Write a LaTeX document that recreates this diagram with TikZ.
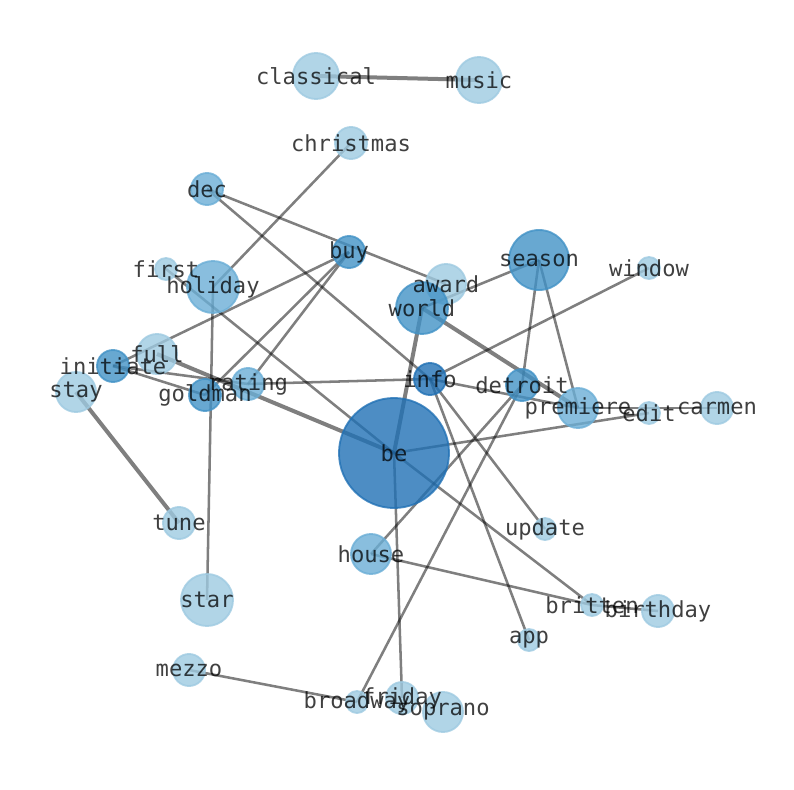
\documentclass[tikz,border=0pt]{standalone}
\usepackage{fontspec}
\usepackage{tikz}
\newfontfamily\wordfont{DejaVu Sans Mono}

\definecolor{blueA}{HTML}{9ECAE1}
\definecolor{blueB}{HTML}{6BAED6}
\definecolor{blueC}{HTML}{4292C6}
\definecolor{blueD}{HTML}{2171B5}

\pgfdeclarelayer{edges}
\pgfdeclarelayer{words}
\pgfsetlayers{edges,main,words}

\tikzset{
  dot/.style={circle,inner sep=0pt,fill opacity=0.8,draw opacity=0.8,line width=1.4pt},
  pale/.style={dot,fill=blueA,draw=blueA},
  soft/.style={dot,fill=blueB,draw=blueB},
  rich/.style={dot,fill=blueC,draw=blueC},
  deep/.style={dot,fill=blueD,draw=blueD},
  tiny/.style={minimum size=16.5pt},
  small/.style={minimum size=24pt},
  mid/.style={minimum size=30pt},
  big/.style={minimum size=34.5pt},
  large/.style={minimum size=39pt},
  huge/.style={minimum size=45pt},
  hub/.style={minimum size=82.5pt},
  word/.style={font=\wordfont\fontsize{16.6}{18}\selectfont,text=black,text opacity=0.75,inner sep=0pt},
  link/.style={draw=black,draw opacity=0.5,line width=1.9pt},
  heavy/.style={link,line width=3pt}
}

\begin{document}
\begin{tikzpicture}[x=0.75pt,y=-0.75pt]
\useasboundingbox (0,0) rectangle (794,790);

\node[pale,big] (classical) at (316,76) {};
\node[pale,big] (music) at (479,80) {};
\node[pale,small] (christmas) at (351,143) {};
\node[soft,small] (dec) at (207,189) {};
\node[rich,small] (buy) at (349,252) {};
\node[pale,tiny] (first) at (166,269) {};
\node[soft,large] (holiday) at (213,287) {};
\node[pale,mid] (award) at (446,284) {};
\node[rich,huge] (season) at (539,260) {};
\node[pale,tiny] (window) at (649,268) {};
\node[rich,large] (world) at (422,308) {};
\node[pale,mid] (full) at (157,354) {};
\node[rich,small] (initiate) at (113,366) {};
\node[pale,mid] (stay) at (76,392) {};
\node[rich,small] (goldman) at (205,395) {};
\node[soft,small] (rating) at (248,384) {};
\node[deep,small] (info) at (430,379) {};
\node[rich,small] (detroit) at (522,385) {};
\node[soft,mid] (premiere) at (578,408) {};
\node[pale,tiny] (edit) at (649,413) {};
\node[pale,small] (carmen) at (717,408) {};
\node[deep,hub] (be) at (394,453) {};
\node[pale,small] (tune) at (179,523) {};
\node[pale,tiny] (update) at (545,529) {};
\node[soft,mid] (house) at (371,554) {};
\node[pale,large] (star) at (207,600) {};
\node[pale,tiny] (britten) at (592,605) {};
\node[pale,small] (birthday) at (658,611) {};
\node[pale,tiny] (app) at (529,640) {};
\node[pale,small] (mezzo) at (189,670) {};
\node[pale,tiny] (broadway) at (357,702) {};
\node[pale,small] (friday) at (402,698) {};
\node[pale,mid] (soprano) at (443,712) {};

% edges
\begin{pgfonlayer}{edges}
\draw[heavy] (classical.center) -- (music.center);
\draw[link] (christmas.center) -- (holiday.center);
\draw[link] (dec.center) -- (award.center);
\draw[link] (dec.center) -- (info.center);
\draw[link] (buy.center) -- (initiate.center);
\draw[link] (buy.center) -- (goldman.center);
\draw[link] (buy.center) -- (rating.center);
\draw[link] (holiday.center) -- (star.center);
\draw[link] (first.center) -- (be.center);
\draw[heavy] (full.center) -- (be.center);
\draw[link] (initiate.center) -- (rating.center);
\draw[link] (initiate.center) -- (goldman.center);
\draw[heavy] (stay.center) -- (tune.center);
\draw[link] (season.center) -- (world.center);
\draw[link] (season.center) -- (detroit.center);
\draw[link] (season.center) -- (premiere.center);
\draw[heavy] (world.center) -- (be.center);
\draw[heavy] (world.center) -- (premiere.center);
\draw[link] (window.center) -- (info.center);
\draw[link] (rating.center) -- (info.center);
\draw[link] (info.center) -- (premiere.center);
\draw[link] (info.center) -- (update.center);
\draw[link] (info.center) -- (app.center);
\draw[link] (detroit.center) -- (house.center);
\draw[link] (detroit.center) -- (broadway.center);
\draw[link] (be.center) -- (edit.center);
\draw[link] (premiere.center) -- (carmen.center);
\draw[link] (be.center) -- (britten.center);
\draw[link] (be.center) -- (friday.center);
\draw[link] (house.center) -- (britten.center);
\draw[link] (britten.center) -- (birthday.center);
\draw[link] (mezzo.center) -- (broadway.center);
\end{pgfonlayer}

% labels
\begin{pgfonlayer}{words}
\node[word] (classical-w) at (classical) {classical};
\node[word] (music-w) at (music) {music};
\node[word] (christmas-w) at (christmas) {christmas};
\node[word] (dec-w) at (dec) {dec};
\node[word] (buy-w) at (buy) {buy};
\node[word] (first-w) at (first) {first};
\node[word] (holiday-w) at (holiday) {holiday};
\node[word] (award-w) at (award) {award};
\node[word] (season-w) at (season) {season};
\node[word] (window-w) at (window) {window};
\node[word] (world-w) at (world) {world};
\node[word] (full-w) at (full) {full};
\node[word] (initiate-w) at (initiate) {initiate};
\node[word] (stay-w) at (stay) {stay};
\node[word] (goldman-w) at (goldman) {goldman};
\node[word] (rating-w) at (rating) {rating};
\node[word] (info-w) at (info) {info};
\node[word] (detroit-w) at (detroit) {detroit};
\node[word] (premiere-w) at (premiere) {premiere};
\node[word] (edit-w) at (edit) {edit};
\node[word] (carmen-w) at (carmen) {carmen};
\node[word] (be-w) at (be) {be};
\node[word] (tune-w) at (tune) {tune};
\node[word] (update-w) at (update) {update};
\node[word] (house-w) at (house) {house};
\node[word] (star-w) at (star) {star};
\node[word] (britten-w) at (britten) {britten};
\node[word] (birthday-w) at (birthday) {birthday};
\node[word] (app-w) at (app) {app};
\node[word] (mezzo-w) at (mezzo) {mezzo};
\node[word] (broadway-w) at (broadway) {broadway};
\node[word] (friday-w) at (friday) {friday};
\node[word] (soprano-w) at (soprano) {soprano};
\end{pgfonlayer}
\end{tikzpicture}
\end{document}
